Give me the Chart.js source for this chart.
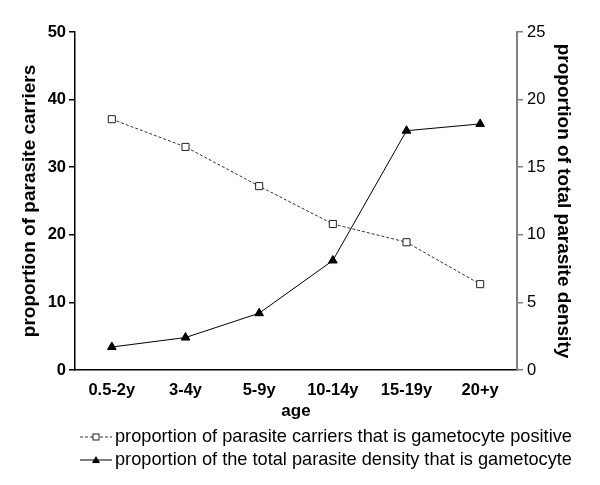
<!DOCTYPE html>
<html>
<head>
<meta charset="utf-8">
<script src="https://cdn.jsdelivr.net/npm/chart.js@4"></script>
<style>
html,body{margin:0;padding:0;background:#fff;}
canvas{display:block;}
</style>
</head>
<body>
<canvas id="c" width="600" height="485"></canvas>
<script>
const categories = ['0.5-2y', '3-4y', '5-9y', '10-14y', '15-19y', '20+y'];
const carriersPositive = [37.1, 33.0, 27.2, 21.6, 18.9, 12.7];
const densityGametocyte = [1.7, 2.4, 4.2, 8.1, 17.7, 18.2];
const seriesLabels = [
  'proportion of parasite carriers that is gametocyte positive',
  'proportion of the total parasite density that is gametocyte'
];
const leftTitle = 'proportion of parasite carriers';
const rightTitle = 'proportion of total parasite density';
const xTitle = 'age';

const FONT = '"Liberation Sans", Arial, sans-serif';

const legendPlugin = {
  id: 'customLegend',
  afterDraw(chart) {
    const ctx = chart.ctx;
    const rows = [437, 460];
    chart.data.datasets.forEach((ds, i) => {
      const y = rows[i];
      ctx.save();
      ctx.strokeStyle = ds.borderColor;
      ctx.lineWidth = 1;
      ctx.setLineDash(ds.borderDash || []);
      ctx.beginPath();
      ctx.moveTo(80, y);
      ctx.lineTo(112, y);
      ctx.stroke();
      ctx.setLineDash([]);
      const cx = 96;
      if (ds.pointStyle === 'rect') {
        ctx.fillStyle = '#fff';
        ctx.strokeStyle = ds.pointBorderColor;
        ctx.fillRect(cx - 3, y - 3, 6, 6);
        ctx.strokeRect(cx - 3, y - 3, 6, 6);
      } else {
        ctx.fillStyle = ds.pointBackgroundColor;
        ctx.beginPath();
        ctx.moveTo(cx, y - 4);
        ctx.lineTo(cx + 4, y + 3);
        ctx.lineTo(cx - 4, y + 3);
        ctx.closePath();
        ctx.fill();
      }
      ctx.fillStyle = '#000';
      ctx.font = '18.2px ' + FONT;
      ctx.textBaseline = 'middle';
      ctx.textAlign = 'left';
      ctx.fillText(ds.label, 115, y);
      ctx.restore();
    });
  }
};

new Chart(document.getElementById('c'), {
  type: 'line',
  data: {
    labels: categories,
    datasets: [
      {
        label: seriesLabels[0],
        data: carriersPositive,
        yAxisID: 'y',
        borderColor: '#333',
        borderWidth: 1,
        borderDash: [3, 2],
        pointStyle: 'rect',
        pointRadius: 5,
        pointBorderWidth: 1,
        pointBackgroundColor: '#fff',
        pointBorderColor: '#222',
        tension: 0
      },
      {
        label: seriesLabels[1],
        data: densityGametocyte,
        yAxisID: 'y2',
        borderColor: '#000',
        borderWidth: 1,
        pointStyle: 'triangle',
        pointRadius: 5,
        pointBorderWidth: 1,
        pointBackgroundColor: '#000',
        pointBorderColor: '#000',
        tension: 0
      }
    ]
  },
  options: {
    responsive: false,
    animation: false,
    layout: { padding: { top: 32, left: 0, right: 0, bottom: 63 } },
    plugins: { legend: { display: false }, tooltip: { enabled: false } },
    scales: {
      x: {
        offset: true,
        afterFit(s) { s.height = 52; },
        grid: { drawOnChartArea: false, drawTicks: false },
        border: { color: '#000', width: 1.5 },
        ticks: { color: '#000', padding: 11, font: { family: FONT, size: 16.5, weight: 'bold' } },
        title: { display: true, text: xTitle, color: '#000', padding: 0, font: { family: FONT, size: 17, weight: 'bold' } }
      },
      y: {
        position: 'left',
        min: 0, max: 50,
        afterFit(s) { s.width = 75; },
        grid: { drawOnChartArea: false, drawTicks: true, tickLength: 6, color: '#000', lineWidth: 1.5 },
        border: { color: '#000', width: 1.5 },
        ticks: { stepSize: 10, color: '#000', padding: 3, font: { family: FONT, size: 16.5, weight: 'bold' } },
        title: { display: true, text: leftTitle, color: '#000', padding: { top: 18, bottom: 0 }, font: { family: FONT, size: 19, weight: 'bold' } }
      },
      y2: {
        position: 'right',
        min: 0, max: 25,
        afterFit(s) { s.width = 83; },
        grid: { drawOnChartArea: false, drawTicks: true, tickLength: 6, color: '#808080', lineWidth: 1.5 },
        border: { color: '#808080', width: 2 },
        ticks: { stepSize: 5, color: '#000', padding: 4, font: { family: FONT, size: 16.5 } },
        title: { display: true, text: rightTitle, color: '#000', padding: { top: 25, bottom: 0 }, font: { family: FONT, size: 19, weight: 'bold' } }
      }
    }
  },
  plugins: [legendPlugin]
});
</script>
</body>
</html>
